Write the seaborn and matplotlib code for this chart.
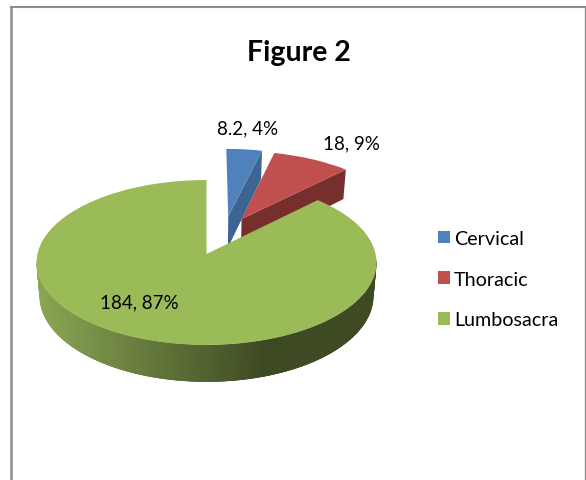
import numpy as np
import matplotlib
matplotlib.use('Agg')
import matplotlib.pyplot as plt
import matplotlib.colors as mcolors
from matplotlib.transforms import Transform
import seaborn as sns

# Dados do grafico
categorias = ['Cervical', 'Thoracic', 'Lumbosacra']
valores = [8.2, 18, 184]
percentuais = [4, 9, 87]

sns.set_theme(style='white')
plt.rcParams['font.family'] = ['Lato', 'DejaVu Sans']

cores = sns.color_palette(['#4F81BD', '#C0504D', '#9BBB59'])
cores_face = {0: '#3C6594', 1: '#772F2D'}

# Camera da pizza 3D: plano unitario da pizza -> pixels da figura
CX, CY = 206.5, 255
ESC_X, ESC_Y = 169.1, 81.6
K = 0.103
PROF = 33
deslocamentos = [(0.135, 0.485), (0.217, 0.449), (0, 0)]


def projeta(u, v, z=0.0):
    w = 1 + K * v
    return CX + ESC_X * u / w * (1 - 0.018 * z), CY - ESC_Y * v / w + PROF * z / w


class Perspectiva(Transform):
    input_dims = 2
    output_dims = 2
    is_separable = False

    def transform_non_affine(self, values):
        x, y = projeta(values[:, 0], values[:, 1])
        return np.column_stack([x, y])


fig = plt.figure(figsize=(5.86, 4.81), dpi=100)
ax = fig.add_axes([0, 0, 1, 1])

fatias, _ = ax.pie(valores, colors=cores, startangle=90, counterclock=False, wedgeprops={'linewidth': 0})
ax.set_aspect('auto')
ax.set_xlim(0, 586)
ax.set_ylim(481, 0)

persp = Perspectiva() + ax.transData
for fatia, desl in zip(fatias, deslocamentos):
    fatia.set_center(desl)
    fatia.set_transform(persp)
    fatia.set_zorder(3)
fatias[2].set_zorder(5)

# Faces de corte das fatias destacadas (azul e vermelha)
for i in cores_face:
    du, dv = deslocamentos[i]
    ang = np.radians(fatias[i].theta1)
    us = np.array([du, du + np.cos(ang), du + np.cos(ang), du])
    vs = np.array([dv, dv + np.sin(ang), dv + np.sin(ang), dv])
    zs = np.array([0, 0, 1, 1])
    x, y = projeta(us, vs, zs)
    ax.fill(x, y, color=cores_face[i], linewidth=0, zorder=2)

# Lateral da fatia verde com degrade (cada tira cobre a emenda da anterior)
claro = np.array(mcolors.to_rgb('#8BA653'))
escuro = np.array(mcolors.to_rgb('#3E4A23'))
angulos = np.radians(np.linspace(184, 356, 173))
for j in range(len(angulos) - 1):
    arco = angulos[j:j + 4]
    u, v = np.cos(arco), np.sin(arco)
    x, y = projeta(np.r_[u, u[::-1]], np.r_[v, v[::-1]], np.r_[np.zeros(len(u)), np.ones(len(u))])
    t = np.clip((projeta(u[0], v[0])[0] - 37) / (262 - 37), 0, 1)
    c = claro + (escuro - claro) * t
    ax.fill(x, y, color=c, linewidth=0, zorder=4)

# Moldura
moldura = '#8C8C8C'
ax.plot([10.5, 10.5], [7, 481], color=moldura, lw=1.8, solid_capstyle='butt', zorder=1)
ax.plot([9.5, 586], [7.7, 7.7], color=moldura, lw=1.5, solid_capstyle='butt', zorder=1)
ax.plot([585, 585], [7, 481], color=moldura, lw=1, solid_capstyle='butt', zorder=1)

# Titulo e rotulos
ax.text(299, 53, 'Figure 2', ha='center', va='center', fontsize=20.5, fontweight='bold', color='black')
pos_rotulos = [(248, 129), (351, 144), (139, 303)]
for v, p, (x, y) in zip(valores, percentuais, pos_rotulos):
    ax.text(x, y, f'{v:g}, {p}%', ha='center', va='center', fontsize=13.5, color='black', zorder=6)

leg = ax.legend(fatias, categorias, loc='upper left', bbox_to_anchor=(428.5 / 586, 1 - 221 / 481),
                frameon=False, fontsize=14.2, handlelength=0.61, handleheight=0.61, handletextpad=0.18,
                labelspacing=1.2, borderpad=0, borderaxespad=0.5)
for t in leg.get_texts():
    t.set_color('black')

plt.savefig('out.png', dpi=100)
